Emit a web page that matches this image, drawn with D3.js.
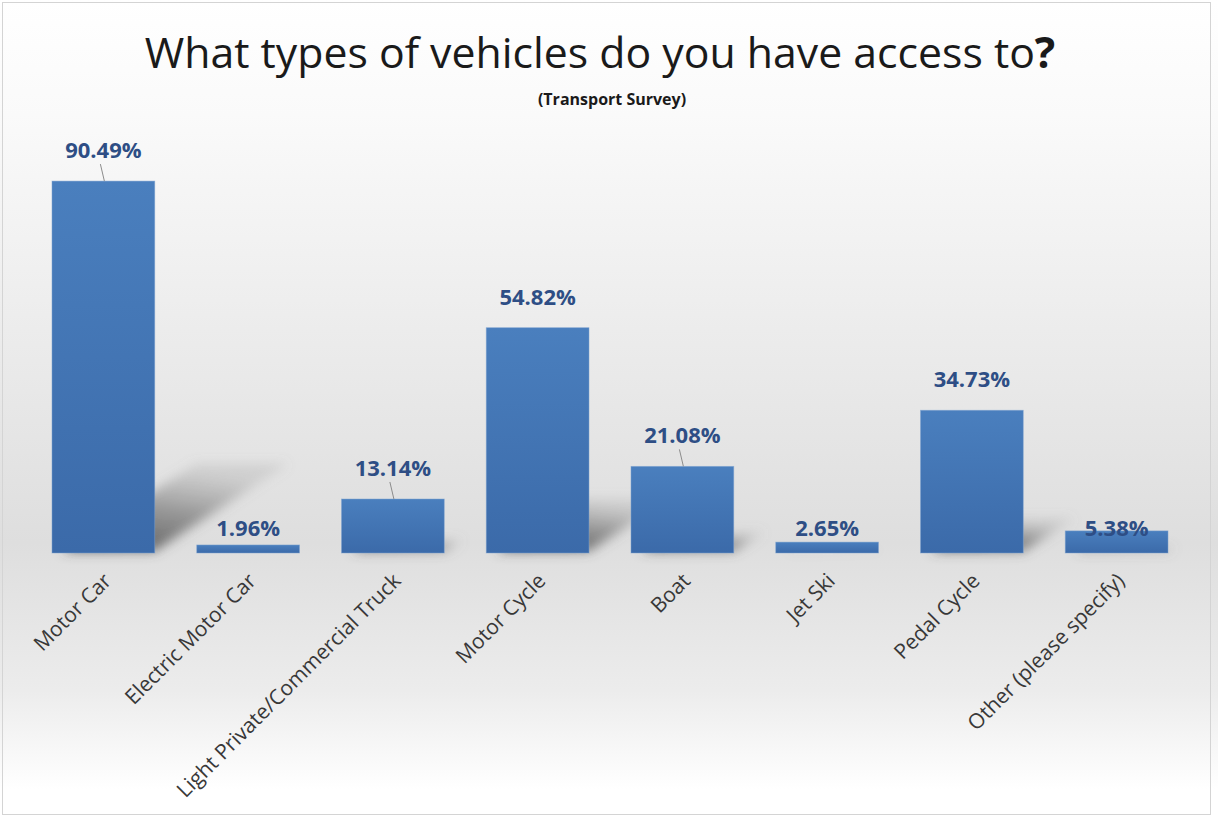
<!DOCTYPE html>
<html><head><meta charset="utf-8">
<script src="https://cdn.jsdelivr.net/npm/d3@7/dist/d3.min.js"></script>
<style>html,body{margin:0;padding:0;background:#fff;}svg{display:block;}</style>
</head><body>
<script>
const categories = ["Motor Car","Electric Motor Car","Light Private/Commercial Truck","Motor Cycle","Boat","Jet Ski","Pedal Cycle","Other (please specify)"];
const values = [90.49, 1.96, 13.14, 54.82, 21.08, 2.65, 34.73, 5.38];
const valueLabels = ["90.49%","1.96%","13.14%","54.82%","21.08%","2.65%","34.73%","5.38%"];
const leaderLines = ["Motor Car","Light Private/Commercial Truck","Boat"];
const titleText = "What types of vehicles do you have access to";
const subtitleText = "(Transport Survey)";

const W = 1218, H = 822;
const svg = d3.select("body").append("svg").attr("width", W).attr("height", H);
const defs = svg.append("defs");

const bg = defs.append("linearGradient").attr("id","bg").attr("x1",0).attr("y1",0).attr("x2",0).attr("y2",1);
[[0,"#ffffff"],[0.14,"#fafafa"],[0.42,"#ebebeb"],[0.66,"#dedede"],[0.84,"#ececec"],[0.96,"#ffffff"]]
  .forEach(([o,c])=>bg.append("stop").attr("offset",o).attr("stop-color",c));
const barG = defs.append("linearGradient").attr("id","barG").attr("x1",0).attr("y1",0).attr("x2",0).attr("y2",1);
[[0,"#4a7fbe"],[1,"#3b6aa9"]].forEach(([o,c])=>barG.append("stop").attr("offset",o).attr("stop-color",c));
const shG = defs.append("linearGradient").attr("id","shG").attr("x1",0).attr("y1",1).attr("x2",0.4).attr("y2",0);
[[0,"#444",0.9],[0.55,"#666",0.6],[1,"#888",0.2]].forEach(([o,c,a])=>shG.append("stop").attr("offset",o).attr("stop-color",c).attr("stop-opacity",a));
defs.append("filter").attr("id","blur").attr("x","-20%").attr("y","-20%").attr("width","140%").attr("height","140%")
  .append("feGaussianBlur").attr("stdDeviation",6);

svg.append("rect").attr("width",W).attr("height",H).attr("fill","url(#bg)");
svg.append("rect").attr("x",2.5).attr("y",2.5).attr("width",1208).attr("height",812)
  .attr("fill","none").attr("stroke","#d4d4d4").attr("stroke-width",1);

const x = d3.scaleBand().domain(categories).range([31, 1189]).paddingInner(0.29).paddingOuter(0.145);
const y = d3.scaleLinear().domain([0, 100]).range([553, 142]);

// shadows
const sh = svg.append("g").attr("filter","url(#blur)");
categories.forEach((c,i)=>{
  const h = y(0) - y(values[i]);
  const x0 = x(c), x1 = x(c) + x.bandwidth(), b = y(0);
  const dx = h*0.36, dy = h*0.24;
  sh.append("path")
    .attr("d", `M${x0+10},${b-2} L${x1},${b-2} L${x1+dx},${b-dy} L${x0+dx+10},${b-dy} Z`)
    .attr("fill","url(#shG)");
});

// bars
svg.append("g").selectAll("rect").data(categories).join("rect")
  .attr("x", d=>x(d)).attr("width", x.bandwidth())
  .attr("y", (d,i)=>y(values[i])).attr("height", (d,i)=>y(0)-y(values[i]))
  .attr("fill","url(#barG)").attr("stroke","#7fa3d0").attr("stroke-width",0.8).attr("stroke-opacity",0.6);

// data labels
const lab = svg.append("g");
categories.forEach((c,i)=>{
  const cx = x(c) + x.bandwidth()/2;
  const top = y(values[i]);
  const cy = values[i] < 10 ? 528 : top - 31;
  if (leaderLines.includes(c)) {
    lab.append("line").attr("x1",cx-3).attr("x2",cx+1).attr("y1",cy+14).attr("y2",top)
      .attr("stroke","#8c8c8c").attr("stroke-width",1);
  }
  lab.append("text").attr("x",cx).attr("y",cy).attr("dy","0.36em")
    .attr("text-anchor","middle").attr("font-family","'Open Sans'").attr("font-weight","bold")
    .attr("font-size",22).attr("fill","#2E4E85").text(valueLabels[i]);
});

// x axis labels
const xAxis = d3.axisBottom(x).tickSize(0).tickPadding(0);
const ax = svg.append("g").attr("transform",`translate(0,${y(0)})`).call(xAxis);
ax.select(".domain").remove();
ax.selectAll("text")
  .attr("font-family","'Open Sans'").attr("font-size",21).attr("fill","#383838")
  .attr("text-anchor","end").attr("dy","0.35em").attr("y",0)
  .attr("transform","translate(4,24) rotate(-45)");

// title
const t = svg.append("text").attr("x",600).attr("y",68).attr("text-anchor","middle")
  .attr("font-family","'Open Sans'").attr("font-size",46).attr("fill","#1a1a1a");
t.append("tspan").text(titleText);
t.append("tspan").attr("font-weight","bold").text("?");
const tl = t.node().getComputedTextLength();
t.attr("font-size", 46 * 911 / tl);

svg.append("text").attr("x",612).attr("y",105).attr("text-anchor","middle")
  .attr("font-family","'Open Sans'").attr("font-weight","bold").attr("font-size",16).attr("fill","#1a1a1a")
  .text(subtitleText);
</script>
</body></html>
